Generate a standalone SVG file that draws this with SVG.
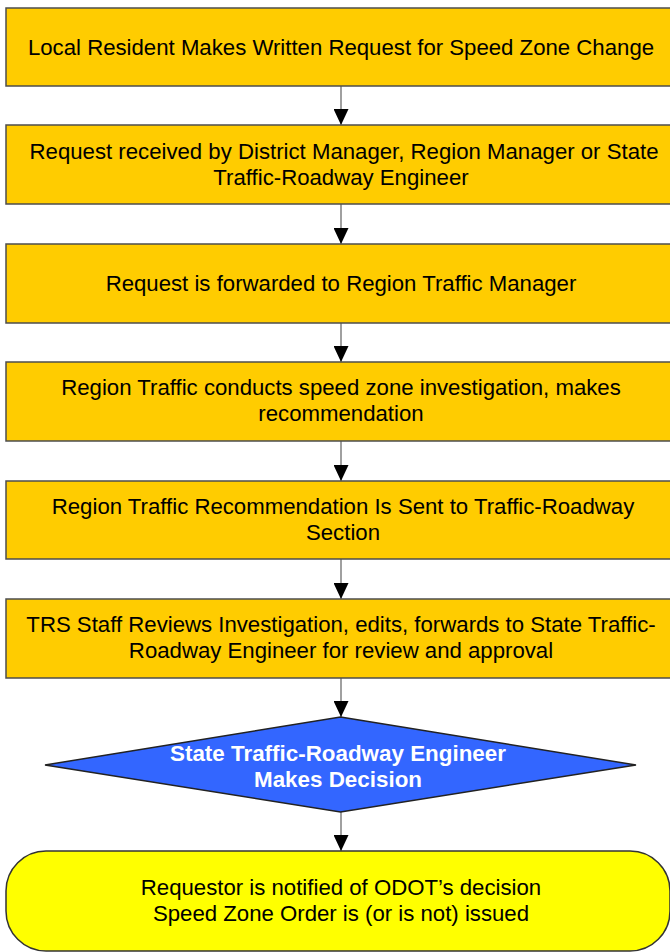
<svg xmlns="http://www.w3.org/2000/svg" width="670" height="952" viewBox="0 0 670 952">
<defs>
<style>
.box{fill:#FFCC00;stroke:#4d4d4d;stroke-width:1.5}
.t{font-family:"Liberation Sans",Arial,sans-serif;font-size:22.2px;fill:#000;text-anchor:middle}
.tb{font-family:"Liberation Sans",Arial,sans-serif;font-size:22.4px;font-weight:bold;fill:#fff;text-anchor:middle}
.ln{stroke:#808080;stroke-width:1.5;fill:none}
</style>
<marker id="ah" viewBox="0 0 16 15" refX="16" refY="7.5" markerWidth="16" markerHeight="15" markerUnits="userSpaceOnUse" orient="auto">
<path d="M0,0 L16,7.5 L0,15 Z" fill="#000"/>
</marker>
</defs>
<rect width="670" height="952" fill="#fff"/>
<g id="connectors">
<line class="ln" x1="341" y1="86" x2="341" y2="125" marker-end="url(#ah)"/>
<line class="ln" x1="341" y1="204" x2="341" y2="244" marker-end="url(#ah)"/>
<line class="ln" x1="341" y1="323" x2="341" y2="362" marker-end="url(#ah)"/>
<line class="ln" x1="341" y1="441" x2="341" y2="481" marker-end="url(#ah)"/>
<line class="ln" x1="341" y1="559" x2="341" y2="599" marker-end="url(#ah)"/>
<line class="ln" x1="341" y1="678" x2="341" y2="717" marker-end="url(#ah)"/>
<line class="ln" x1="341" y1="812" x2="341" y2="851" marker-end="url(#ah)"/>
</g>
<g id="n1">
<rect class="box" x="6" y="8" width="670" height="78"/>
<text class="t" x="341" y="55">Local Resident Makes Written Request for Speed Zone Change</text>
</g>
<g id="n2">
<rect class="box" x="6" y="125" width="670" height="79"/>
<text class="t" x="344" y="159">Request received by District Manager, Region Manager or State</text>
<text class="t" x="341" y="185">Traffic-Roadway Engineer</text>
</g>
<g id="n3">
<rect class="box" x="6" y="244" width="670" height="79"/>
<text class="t" x="341" y="291">Request is forwarded to Region Traffic Manager</text>
</g>
<g id="n4">
<rect class="box" x="6" y="362" width="670" height="79"/>
<text class="t" x="341" y="395">Region Traffic conducts speed zone investigation, makes</text>
<text class="t" x="341" y="421">recommendation</text>
</g>
<g id="n5">
<rect class="box" x="6" y="481" width="670" height="78"/>
<text class="t" x="343" y="514">Region Traffic Recommendation Is Sent to Traffic-Roadway</text>
<text class="t" x="343" y="540">Section</text>
</g>
<g id="n6">
<rect class="box" x="6" y="599" width="670" height="79"/>
<text class="t" x="341" y="632">TRS Staff Reviews Investigation, edits, forwards to State Traffic-</text>
<text class="t" x="341" y="658">Roadway Engineer for review and approval</text>
</g>
<g id="n7">
<polygon points="340.5,717 636,765 340.5,812 45,765" fill="#3366FF" stroke="#222" stroke-width="1.5"/>
<text class="tb" x="338" y="761">State Traffic-Roadway Engineer</text>
<text class="tb" x="338" y="787">Makes Decision</text>
</g>
<g id="n8">
<rect x="6" y="851" width="664" height="100" rx="40" ry="40" fill="#FFFF00" stroke="#333" stroke-width="1.5"/>
<text class="t" x="341" y="895">Requestor is notified of ODOT’s decision</text>
<text class="t" x="341" y="921">Speed Zone Order is (or is not) issued</text>
</g>
</svg>
